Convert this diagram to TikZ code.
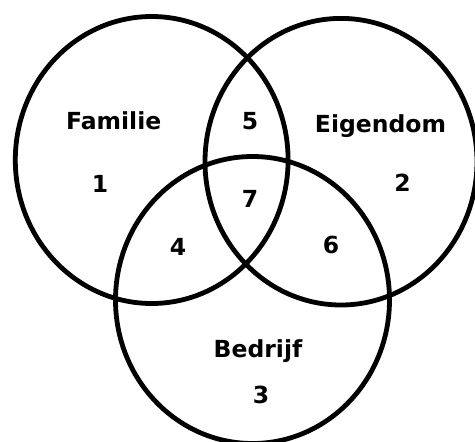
\documentclass[tikz,border=0pt]{standalone}
\usepackage{fontspec}
\setmainfont{DejaVu Sans}
\begin{document}
\begin{tikzpicture}[x=1pt,y=-1pt,
  ring/.style={draw=black,line width=4.8pt},
  lbl/.style={anchor=base,inner sep=0pt,font=\bfseries\fontsize{23.5}{28}\selectfont}]
\useasboundingbox (0,0) rectangle (475,442);
\draw[ring] (151.7,160) ellipse [x radius=136.4, y radius=143.5];
\draw[ring] (341,161.7) ellipse [x radius=136, y radius=143.3];
\draw[ring] (252.5,300) ellipse [x radius=137, y radius=143.5];
\node[lbl] (fam) at (113.7,129.3) {Familie};
\node[lbl] (eig) at (380.5,132.7) {Eigendom};
\node[lbl] (bed) at (258,357.3) {Bedrijf};
\node[lbl] (n1) at (100,192.7) {1};
\node[lbl] (n2) at (402.5,191.7) {2};
\node[lbl] (n3) at (261,403.3) {3};
\node[lbl] (n4) at (178,255) {4};
\node[lbl] (n5) at (250,129.3) {5};
\node[lbl] (n6) at (331,253.3) {6};
\node[lbl] (n7) at (250,207.3) {7};
\end{tikzpicture}
\end{document}
